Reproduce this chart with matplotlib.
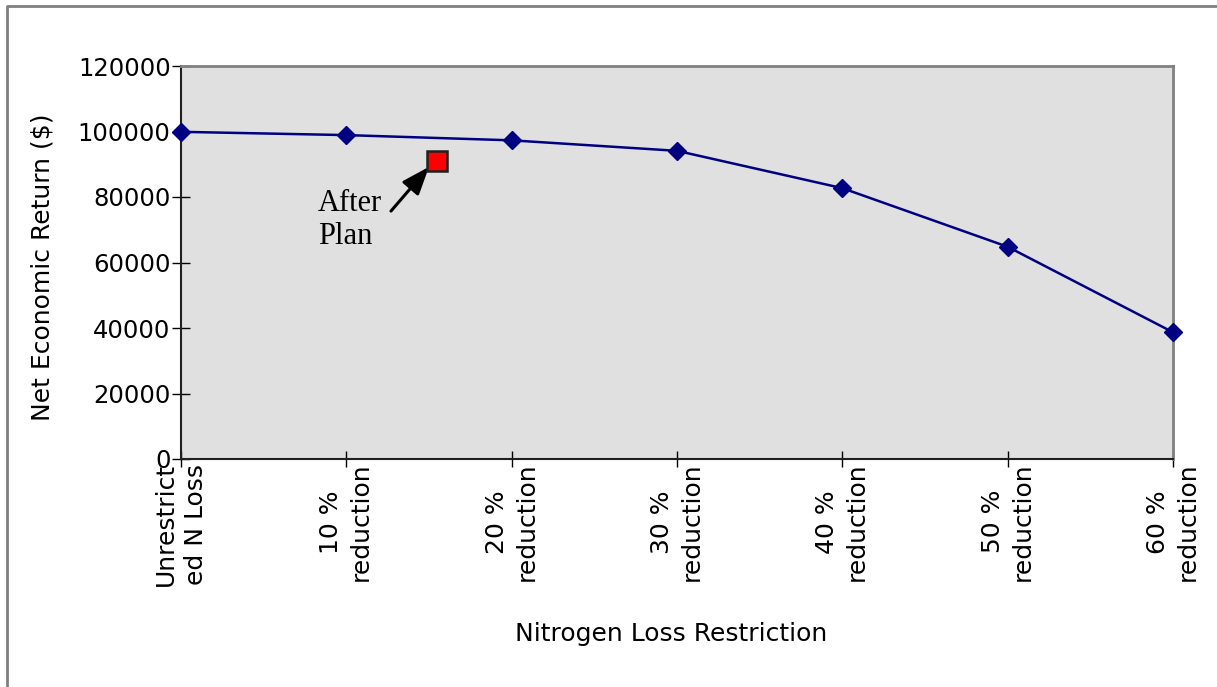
"""Net economic return vs nitrogen loss restriction"""
import matplotlib
matplotlib.use('Agg')
import matplotlib.pyplot as plt
from matplotlib.lines import Line2D

categories = ['Unrestrict\ned N Loss', '10 %\nreduction', '20 %\nreduction',
              '30 %\nreduction', '40 %\nreduction', '50 %\nreduction',
              '60 %\nreduction']
net_return = [99900, 98900, 97300, 94100, 82700, 64800, 38700]
after_plan_x = 1.55
after_plan_y = 91100
y_ticks = [0, 20000, 40000, 60000, 80000, 100000, 120000]

plt.rcParams['font.family'] = ['DejaVu Sans']

fig = plt.figure(figsize=(12.17, 6.87), dpi=100)
W, H = 1217, 687
ax = fig.add_axes([181 / W, 1 - 459 / H, (1173 - 181) / W, (459 - 66) / H])
ax.set_facecolor('#e0e0e0')

x = list(range(len(categories)))
ax.plot(x, net_return, color='#000080', lw=1.8, marker='D', markersize=9,
        clip_on=False, zorder=3)
ax.plot([after_plan_x], [after_plan_y], marker='s', markersize=15,
        markerfacecolor='#ff0000', markeredgecolor='#202020',
        markeredgewidth=1.8, linestyle='none', zorder=4)

ax.annotate('', xy=(1.50, 89200), xytext=(1.27, 75700),
            arrowprops=dict(arrowstyle='-|>,head_length=1.7,head_width=0.65',
                            color='black', lw=2.2, shrinkA=0, shrinkB=0))
ax.text(0.83, 73000, 'After\nPlan', family='Liberation Serif', fontsize=22,
        ha='left', va='center', linespacing=1.15)

ax.set_xlim(0, len(categories) - 1)
ax.set_ylim(0, 120000)
ax.set_yticks(y_ticks)
ax.set_yticklabels([str(v) for v in y_ticks], fontsize=17.5)
ax.set_xticks(x)
ax.set_xticklabels(categories, rotation=90, fontsize=18, ha='center',
                   va='top', linespacing=1.3)

ax.tick_params(axis='y', direction='inout', length=13, width=1, pad=1)
ax.tick_params(axis='x', direction='inout', length=11, width=1, pad=-3)

for side in ['left', 'bottom']:
    ax.spines[side].set_color('#202020')
    ax.spines[side].set_linewidth(1.5)
for side in ['top', 'right']:
    ax.spines[side].set_color('#808080')
    ax.spines[side].set_linewidth(2)

fig.text(43 / W, 1 - 267 / H, 'Net Economic Return ($)', rotation=90,
         fontsize=18, ha='center', va='center')
fig.text(671 / W, 1 - 634 / H, 'Nitrogen Loss Restriction', fontsize=18,
         ha='center', va='center')

# outer chart frame (only left and top edges visible)
fig.add_artist(Line2D([7 / W, 7 / W, 1], [0, 1 - 6 / H, 1 - 6 / H],
                      transform=fig.transFigure, color='#808080', lw=2))

fig.savefig('out.png', dpi=100)
